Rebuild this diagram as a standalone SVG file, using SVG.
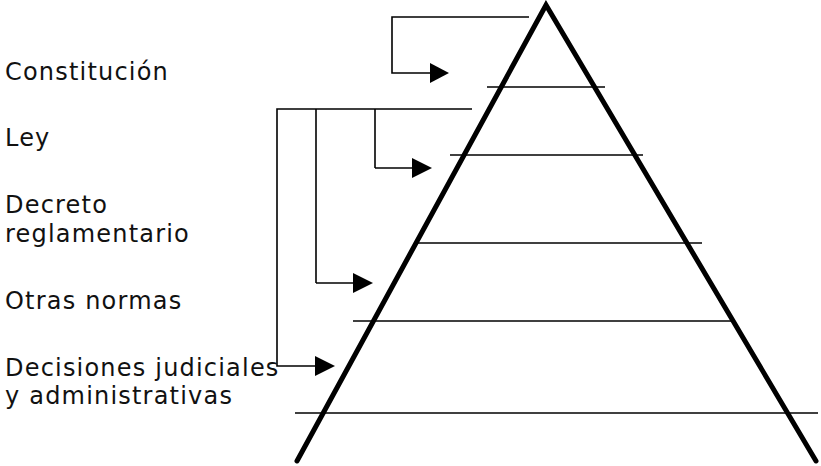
<svg xmlns="http://www.w3.org/2000/svg" width="821" height="466" viewBox="0 0 821 466">
<defs>
<style>
.lbl{font-family:"DejaVu Sans","Verdana",sans-serif;font-size:24px;letter-spacing:1.2px;fill:#111}
.leg{stroke:#000;stroke-width:5;fill:none;stroke-linecap:round}
.tier{stroke:#000;stroke-width:1.6;fill:none}
.conn{stroke:#000;stroke-width:1.6;fill:none}
.head{fill:#000}
</style>
</defs>
<rect width="821" height="466" fill="#fff"/>
<g id="pyramid">
<polyline class="leg" points="297,461 546,5 816,461"/>
<line class="tier" x1="487" y1="87" x2="605" y2="87"/>
<line class="tier" x1="450" y1="155" x2="643" y2="155"/>
<line class="tier" x1="416" y1="243" x2="702" y2="243"/>
<line class="tier" x1="353" y1="321" x2="735" y2="321"/>
<line class="tier" x1="295" y1="413" x2="818" y2="413"/>
</g>
<g id="labels">
<text id="constitucion" class="lbl" x="5" y="80">Constitución</text>
<text id="ley" class="lbl" x="5" y="146">Ley</text>
<text id="decreto" class="lbl" x="5" y="213">Decreto<tspan x="5" y="242">reglamentario</tspan></text>
<text id="otras" class="lbl" x="5" y="309">Otras normas</text>
<text id="decisiones" class="lbl" x="5" y="376">Decisiones judiciales<tspan x="5" y="404">y administrativas</tspan></text>
</g>
<g id="connectors">
<polyline class="conn" points="529,17 392,17 392,73 432,73"/>
<polygon class="head" points="430,63 449,73 430,83"/>
<polyline class="conn" points="472,109 277,109 277,366 318,366"/>
<line class="conn" x1="316" y1="109" x2="316" y2="283"/>
<line class="conn" x1="375" y1="109" x2="375" y2="168"/>
<polyline class="conn" points="375,168 414,168"/>
<polygon class="head" points="412,158 432,168 412,178"/>
<polyline class="conn" points="316,283 355,283"/>
<polygon class="head" points="353,273 373,283 353,293"/>
<polygon class="head" points="315,356 335,366 315,376"/>
</g>
</svg>
